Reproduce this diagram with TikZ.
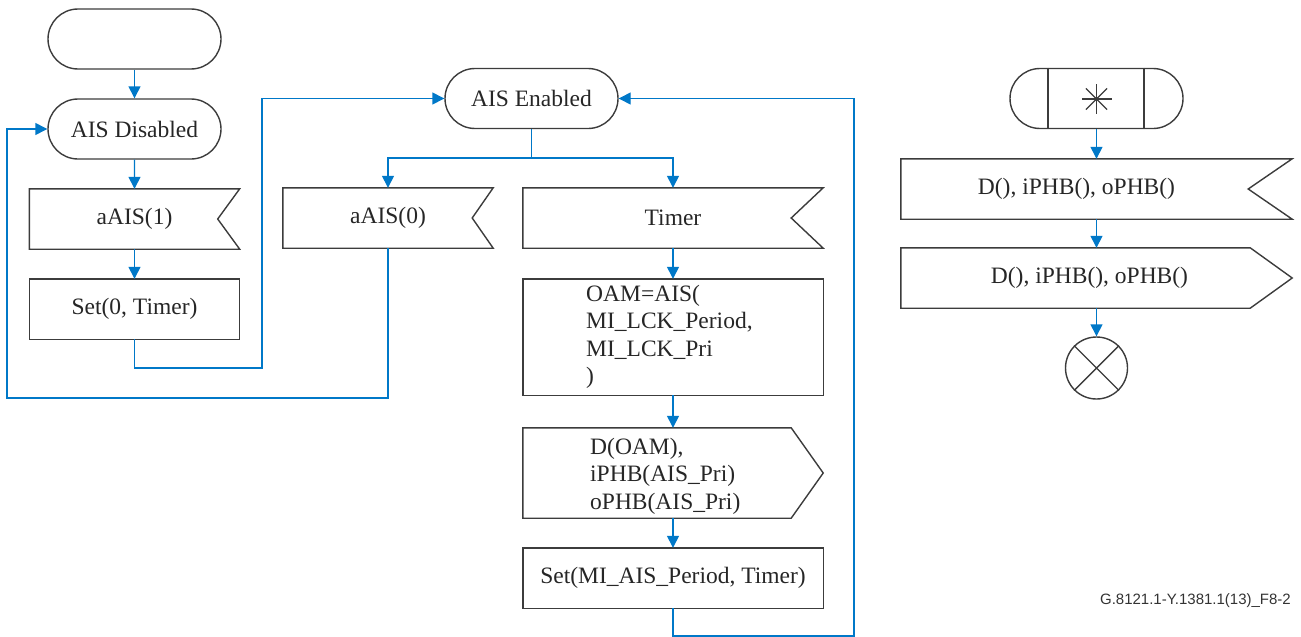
\documentclass[tikz,border=0pt]{standalone}
\usepackage{fontspec}
\setmainfont{Liberation Serif}
\newfontfamily\capfont{Liberation Sans}
\usetikzlibrary{arrows.meta,shapes.misc}
\definecolor{flowblue}{RGB}{0,120,200}
\definecolor{edge}{RGB}{60,60,60}
\begin{document}
\begin{tikzpicture}[x=1pt,y=-1pt,
  every node/.style={font=\fontsize{23.5}{27.5}\selectfont, inner sep=0pt, text=black!85},
  term/.style={rounded rectangle, draw=edge, line width=1.4pt, minimum width=173pt, minimum height=60pt},
  frame/.style={rectangle, minimum height=60pt},
  outline/.style={draw=edge, line width=1.4pt, line join=miter},
  flow/.style={draw=flowblue, line width=1.4pt, -{Triangle[length=12pt,width=12pt]}},
  spoke/.style={draw=edge, line width=1.2pt}
]
\useasboundingbox (0,0) rectangle (1301,637);

% left column
\node[term] (start) at (134.5,39) {};
\node[term] (dis) at (134.5,129) {AIS Disabled};
\node[frame, minimum width=210pt] (a1) at (134.5,219) {aAIS(1)};
\node[frame, minimum width=210pt] (set0) at (134.5,309) {Set(0, Timer)};

% middle
\node[term] (en) at (531.5,98.5) {AIS Enabled};
\node[frame, minimum width=210pt] (a0) at (388,218) {aAIS(0)};
\node[frame, minimum width=300pt] (tim) at (673,218) {Timer};
\node[frame, minimum width=300pt, minimum height=116pt] (oam) at (673,337) {};
\node[anchor=west, align=left] (oamtxt) at (586,337) {OAM=AIS(\\MI\_LCK\_Period,\\MI\_LCK\_Pri\\)};
\node[frame, minimum width=300pt, minimum height=90pt] (dout) at (673,473) {};
\node[anchor=west, align=left] (douttxt) at (590,476) {D(OAM),\\iPHB(AIS\_Pri)\\oPHB(AIS\_Pri)};
\node[frame, minimum width=300pt] (set1) at (673,578) {Set(MI\_AIS\_Period, Timer)};

% right column
\node[term] (st2) at (1096.5,98.5) {};
\node[frame, minimum width=391pt] (din) at (1096.5,189) {\hspace*{-40pt}D(), iPHB(), oPHB()};
\node[frame, minimum width=391pt] (dout2) at (1096.5,278) {\hspace*{-14pt}D(), iPHB(), oPHB()};
\node[circle, draw=edge, line width=1.4pt, minimum size=62pt] (endc) at (1096.5,368) {};
\node[minimum size=2pt] (star) at (1096.5,99) {};

\node[font=\capfont\fontsize{15}{18}\selectfont, text=black!80, anchor=east] (cap) at (1291,601) {G.8121.1-Y.1381.1(13)\_F8-2};

% outlines
\draw[outline] (a1.north west) -- (a1.north east) -- ([xshift=-22pt]a1.east) -- (a1.south east) -- (a1.south west) -- cycle;
\draw[outline] (set0.north west) rectangle (set0.south east);
\draw[outline] (a0.north west) -- (a0.north east) -- ([xshift=-21pt]a0.east) -- (a0.south east) -- (a0.south west) -- cycle;
\draw[outline] (tim.north west) -- (tim.north east) -- ([xshift=-32pt]tim.east) -- (tim.south east) -- (tim.south west) -- cycle;
\draw[outline] (oam.north west) rectangle (oam.south east);
\draw[outline] (dout.north west) -- ([xshift=-32pt]dout.north east) -- (dout.east) -- ([xshift=-32pt]dout.south east) -- (dout.south west) -- cycle;
\draw[outline] (set1.north west) rectangle (set1.south east);
\draw[outline] (din.north west) -- (din.north east) -- ([xshift=-44pt]din.east) -- (din.south east) -- (din.south west) -- cycle;
\draw[outline] (dout2.north west) -- ([xshift=-42pt]dout2.north east) -- (dout2.east) -- ([xshift=-42pt]dout2.south east) -- (dout2.south west) -- cycle;
\draw[outline] ([xshift=-48.5pt]st2.north) -- ([xshift=-48.5pt]st2.south);
\draw[outline] ([xshift=47.5pt]st2.north) -- ([xshift=47.5pt]st2.south);
\draw[outline] (endc.north west) -- (endc.south east) (endc.north east) -- (endc.south west);
\foreach \a in {0,45,90,135}{
  \draw[spoke] ([shift={(\a:15pt)}]star.center) -- ([shift={(\a+180:15pt)}]star.center);
}
\fill[edge] (star.center) circle (2pt);

% connectors
\coordinate (c1) at (262,368);
\coordinate (c2) at (531.5,158);
\coordinate (c3) at (7,398);
\coordinate (c4) at (854,636);
\draw[flow] (start) -- (dis);
\draw[flow] (dis) -- (a1);
\draw[flow] (a1) -- (set0);
\draw[flow] (set0.south) |- (c1) |- (en.west);
\draw[flow] (en.south) -- (c2) -| (a0.north);
\draw[flow] (c2) -| (tim.north);
\draw[flow] (a0.south) |- (c3) |- (dis.west);
\draw[flow] (tim) -- (oam);
\draw[flow] (oam) -- (dout);
\draw[flow] (dout) -- (set1);
\draw[flow] (set1.south) |- (c4) |- (en.east);
\draw[flow] (st2) -- (din);
\draw[flow] (din) -- (dout2);
\draw[flow] (dout2) -- (endc);
\end{tikzpicture}
\end{document}
